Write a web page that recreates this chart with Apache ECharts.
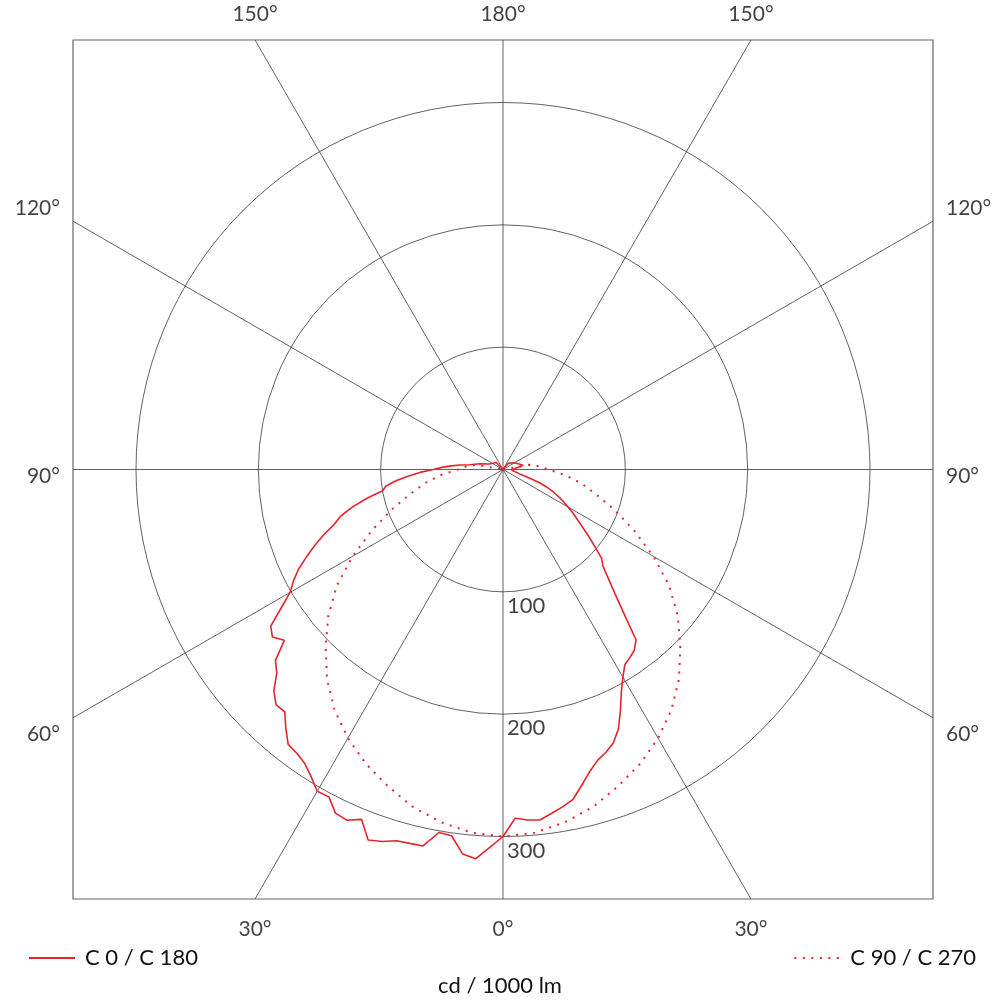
<!DOCTYPE html>
<html><head><meta charset="utf-8">
<script src="https://cdn.jsdelivr.net/npm/echarts@6/dist/echarts.min.js"></script>
<style>html,body{margin:0;padding:0;background:#fff}#chart{width:1000px;height:1000px}</style>
</head><body><div id="chart"></div>
<script>
// ---- data (cd / 1000 lm), gamma in degrees from nadir ----
const ringTicks = [100, 200, 300];
const angleTicks = [0, 30, 60, 90, 120, 150, 180];
const seriesNames = ['C 0 / C 180', 'C 90 / C 270'];
const unitLabel = 'cd / 1000 lm';

// C0 half (right side)
const c0Gamma = [0,2,4,6,8,10,12,14,16,18,20,22,24,26,28,30,32,34,36,38,40,42,44,46,48,50,52,54,56,58,60,62,64,66,68,70,72,74,76,86,102,120,140,180];
const c0Values = [300,285.3,287.2,288.1,284,280,275.6,266,257,250,246,241,232,219,206,196,188,185.5,182.6,176.6,154,137,124,113.5,108.5,98,89,80.6,73.5,67.6,61.6,56,50.4,44.9,39.3,31.7,23.6,15.9,8.4,6.9,16.8,11.1,6.5,0];

// C180 half (left side)
const c180Gamma = [0,2,4,6,8,10,12,14,16,18,20,22,24,26,28,30,32,34,36,38,40,42,44,46,48,50,52,54,56,58,60,62,64,66,68,70,72,74,76,78,80,82,84,86,88,90,92,94,96,98,104,112,136,180];
const c180Values = [300,309,318.9,316,302.3,301.3,314.6,315,315.7,319.7,322.3,308.5,313.8,312.5,303.1,303.7,296,289.8,286.7,285.2,276.2,266.6,267.1,260.4,248.8,242.8,226.8,233,229,214,201,194,186,176,166,156,145,138,127,114,100,96.5,88,78,68,57,50,42.5,35.5,27.5,19.6,12,8,0];

// C90 / C270 (symmetric)
const c90Gamma = [0,5,10,15,20,25,30,35,40,45,50,55,60,65,70,75,80,85,90,95,100,105];
const c90Values = [300,298,292.7,285.4,275.4,265.4,253.6,240,223.8,205,186.5,166,142,118.4,97.5,79,65,50.7,37,30,22,0];

// ---- layout ----
const FONT = 'Lato, "Open Sans", sans-serif';
const TEXT = '#111';
const RED = '#e5252b';
const GRIDC = '#3a3a3a';
const CX = 503, CY = 469.5;
const GL = 73, GT = 40, GW = 860, GH = 859;
const k = 367 / 300;                 // px per cd (300 cd ring = 367 px)
const SX = (GW / 2) / k, SY = (GH / 2) / k;
const R_OUT = GW / 2;                // polar area reaches the frame so nothing is clipped

const solidData = [];
for (let i = c0Gamma.length - 1; i >= 0; i--) solidData.push([c0Values[i], -c0Gamma[i]]);
for (let i = 0; i < c180Gamma.length; i++) solidData.push([c180Values[i], c180Gamma[i]]);
const dottedData = [];
for (let i = c90Gamma.length - 1; i >= 0; i--) dottedData.push([c90Values[i], -c90Gamma[i]]);
for (let i = 0; i < c90Gamma.length; i++) dottedData.push([c90Values[i], c90Gamma[i]]);

function edgePoint(a, side) {
  const rad = a * Math.PI / 180;
  const s = Math.sin(rad) * side, c = -Math.cos(rad);
  const ts = Math.abs(s) > 1e-9 ? SX / Math.abs(s) : Infinity;
  const tc = Math.abs(c) > 1e-9 ? SY / Math.abs(c) : Infinity;
  const t = Math.min(ts, tc);
  return { x: s * t, y: c * t, edge: ts < tc - 1e-6 ? (s > 0 ? 'right' : 'left') : (c > 0 ? 'top' : 'bottom') };
}

const spokeSeries = [0, 30, 60, 90, 120, 150].map(a => {
  const p = edgePoint(a, 1);
  return {
    type: 'line', xAxisIndex: 0, yAxisIndex: 0, silent: true, symbol: 'none', z: 1,
    data: [[p.x, p.y], [-p.x, -p.y]],
    lineStyle: { color: GRIDC, width: 0.8 }
  };
});

const sideDy = { 60: 16, 90: 7, 120: -13 };
const angleLabelData = [];
angleTicks.forEach(a => {
  const sides = (a === 0 || a === 180) ? [1] : [1, -1];
  sides.forEach(sd => {
    const p = edgePoint(a, sd);
    let label;
    if (p.edge === 'top') label = { position: 'top', distance: 15 };
    else if (p.edge === 'bottom') label = { position: 'bottom', distance: 20 };
    else label = { position: p.edge, distance: 13, offset: [0, sideDy[a] || 0] };
    label.formatter = a + '°';
    angleLabelData.push({ value: [p.x, p.y], label });
  });
});

const ringLabelData = ringTicks.map(r => ({ value: [0, -r], name: String(r) }));

const legendCommon = {
  itemWidth: 46, itemHeight: 14, itemStyle: { opacity: 0 },
  textStyle: { fontFamily: FONT, fontSize: 22, color: TEXT, padding: [0, 0, 0, 5] }
};

// ring colours per radius tick (0,100,200,300, frame-radius) -> hide the last one
const ringColors = [GRIDC, GRIDC, GRIDC, GRIDC, 'rgba(0,0,0,0)'];

const option = {
  animation: false,
  backgroundColor: '#fff',
  textStyle: { fontFamily: FONT },
  title: {
    text: unitLabel, left: 'center', top: 970,
    textStyle: { fontFamily: FONT, fontSize: 22, fontWeight: 'normal', color: TEXT }
  },
  legend: [
    Object.assign({ data: [seriesNames[0]], left: 23, top: 942 }, legendCommon),
    Object.assign({ data: [seriesNames[1]], right: 19, top: 942 }, legendCommon)
  ],
  grid: { left: GL, top: GT, width: GW, height: GH, show: true, borderColor: '#666', borderWidth: 1.2, backgroundColor: 'transparent' },
  xAxis: { type: 'value', min: -SX, max: SX, show: false },
  yAxis: { type: 'value', min: -SY, max: SY, show: false },
  polar: { center: [CX, CY], radius: R_OUT },
  angleAxis: {
    type: 'value', min: -180, max: 180, startAngle: 90, clockwise: true,
    axisLine: { show: false }, axisTick: { show: false }, axisLabel: { show: false }, splitLine: { show: false }
  },
  radiusAxis: {
    type: 'value', min: 0, max: SX, interval: 100,
    axisLine: { show: false }, axisTick: { show: false }, axisLabel: { show: false },
    splitLine: { show: true, lineStyle: { color: ringColors, width: 0.8 } }
  },
  series: [
    ...spokeSeries,
    {
      type: 'scatter', xAxisIndex: 0, yAxisIndex: 0, silent: true, symbolSize: 0,
      data: angleLabelData,
      label: { show: true, fontFamily: FONT, fontSize: 21, color: TEXT }
    },
    {
      type: 'scatter', xAxisIndex: 0, yAxisIndex: 0, silent: true, symbolSize: 0,
      data: ringLabelData,
      label: { show: true, position: [4, 3], formatter: '{b}', fontFamily: FONT, fontSize: 22, color: TEXT }
    },
    {
      name: seriesNames[1], type: 'line', coordinateSystem: 'polar', symbol: 'none', z: 3,
      data: dottedData,
      lineStyle: { color: RED, width: 2, type: [2, 6.5] }, itemStyle: { color: RED }
    },
    {
      name: seriesNames[0], type: 'line', coordinateSystem: 'polar', symbol: 'none', z: 4,
      data: solidData,
      lineStyle: { color: RED, width: 1.6 }, itemStyle: { color: RED }
    }
  ]
};
const myChart = echarts.init(document.getElementById('chart'));
myChart.setOption(option);
</script></body></html>
